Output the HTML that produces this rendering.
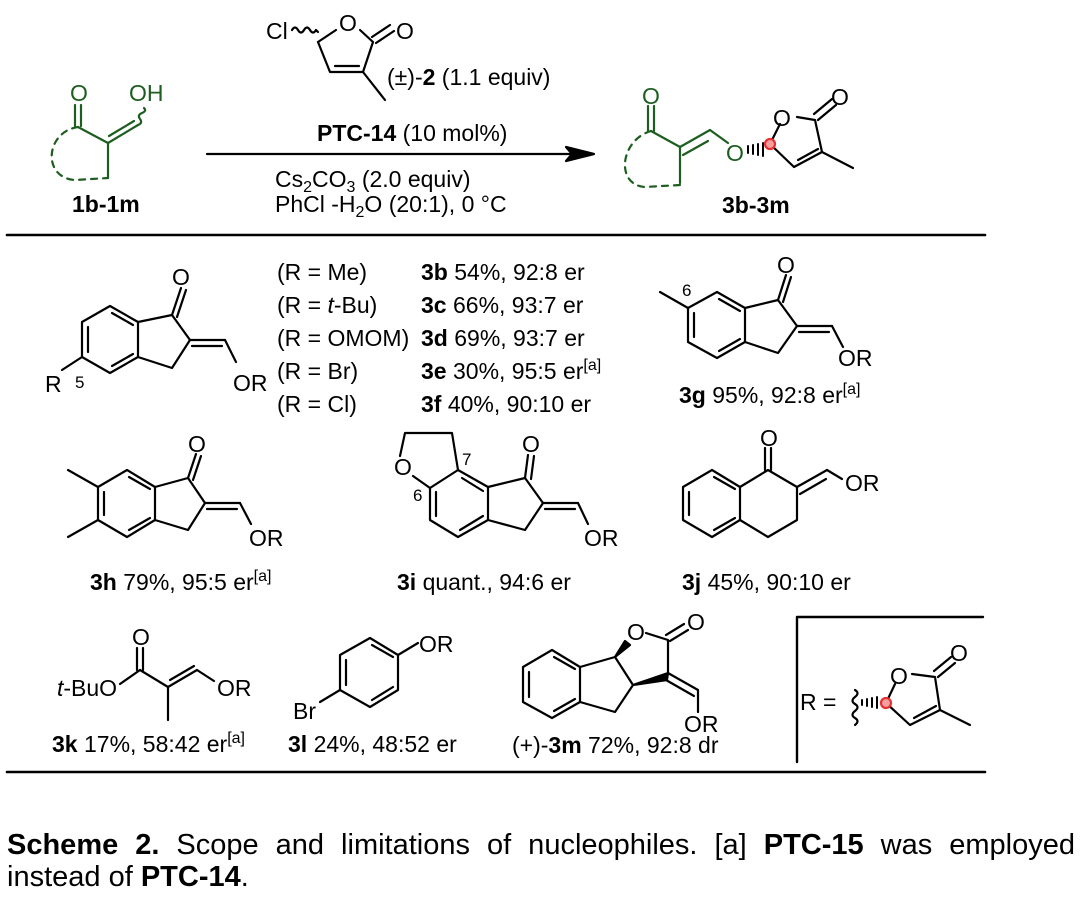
<!DOCTYPE html>
<html><head><meta charset="utf-8"><style>
html,body{margin:0;padding:0;background:#fff;}
svg{display:block;position:absolute;left:0;top:0;}
text{font-family:"Liberation Sans",Arial,sans-serif;fill:#000;}
.cap{position:absolute;left:7px;width:1068px;font-family:"Liberation Sans",Arial,sans-serif;font-size:29px;line-height:32px;color:#000;white-space:nowrap;}
.l1{top:829px;text-align:justify;text-align-last:justify;}
.l2{top:861px;}
</style></head><body>
<svg width="1080" height="908" viewBox="0 0 1080 908" xmlns="http://www.w3.org/2000/svg">
<g stroke="#000" stroke-width="2.2" fill="none" stroke-linecap="round" stroke-linejoin="round">
<line x1="7" y1="235" x2="985" y2="235" stroke-width="2.6"/>
<line x1="7" y1="772" x2="985" y2="772" stroke-width="2.6"/>
<polyline points="797,762 797,617 983,617" stroke-width="2.4"/>
<line x1="207" y1="154" x2="580" y2="154"/>
<polygon points="594,154 566,147 572,154 566,161" fill="#000"/>

<path d="M292,30 q3,-5 6,0 t6,0 t6,0 t6,0 l2,2"/>
<polyline points="318,42 336,30"/>
<polyline points="360,30 373,42 363,72 330,72 318,42"/>
<line x1="335" y1="66" x2="359" y2="66"/>
<line x1="372" y1="37" x2="390" y2="25"/><line x1="376" y1="43" x2="394" y2="31"/>
<line x1="363" y1="72" x2="385" y2="100"/>

<g stroke="#1d5e20">
<line x1="75" y1="105" x2="75" y2="126"/><line x1="81" y1="105" x2="81" y2="126"/>
<polyline points="78,127 108,143 108,178"/>
<line x1="108" y1="143" x2="138" y2="125"/><line x1="109" y1="136" x2="134" y2="121"/>
<path d="M138,125 q5,-2 2,-6 t2,-6 t2,-5"/>
<path d="M78,127 C45,132 42,178 75,180 L108,178" stroke-dasharray="6,6"/>
</g>
<g stroke="#1d5e20">
<line x1="648" y1="106" x2="648" y2="131"/><line x1="654" y1="106" x2="654" y2="131"/>
<polyline points="651,131 680,147 680,183"/>
<line x1="680" y1="147" x2="710" y2="130"/><line x1="683" y1="155" x2="708" y2="141"/>
<line x1="710" y1="130" x2="728" y2="143"/>
<path d="M651,131 C620,140 615,185 645,187 L680,185" stroke-dasharray="6,6"/>
</g>
<g stroke-width="2">
<line x1="748" y1="146" x2="748" y2="153"/><line x1="753" y1="145" x2="753" y2="154"/><line x1="758" y1="144" x2="758" y2="155"/><line x1="763" y1="143" x2="763" y2="156"/>
</g>
<polyline points="770,144 780,124"/>
<polyline points="797,117 815,120 822,152 794,167 770,144"/>
<line x1="798" y1="160" x2="818" y2="149"/>
<line x1="814" y1="114" x2="832" y2="99"/><line x1="818" y1="120" x2="836" y2="105"/>
<line x1="822" y1="152" x2="853" y2="168"/>
<circle cx="770" cy="144" r="5" stroke="#e83030" stroke-width="2.2" fill="#f4a0a0"/>

<polygon points="110,306 82,322 82,357 110,373 138,357 138,322"/>
<line x1="88" y1="327" x2="88" y2="352"/><line x1="112" y1="366" x2="133" y2="354"/><line x1="112" y1="313" x2="133" y2="325"/>
<polyline points="138,322 172,315 190,340 172,368 138,357"/>
<line x1="172" y1="315" x2="181" y2="288"/><line x1="177" y1="317" x2="186" y2="290"/>
<line x1="190" y1="340" x2="225" y2="340"/><line x1="192" y1="346" x2="222" y2="346"/>
<line x1="225" y1="340" x2="236" y2="362"/>
<line x1="82" y1="357" x2="62" y2="370"/>

<polygon points="717,292 688,308 688,342 717,358 745,342 745,308"/>
<line x1="694" y1="313" x2="694" y2="337"/><line x1="719" y1="351" x2="740" y2="339"/><line x1="719" y1="299" x2="740" y2="311"/>
<polyline points="745,308 778,300 797,326 778,353 745,342"/>
<line x1="778" y1="300" x2="786" y2="275"/><line x1="783" y1="302" x2="791" y2="277"/>
<line x1="797" y1="326" x2="832" y2="326"/><line x1="799" y1="332" x2="829" y2="332"/>
<line x1="832" y1="326" x2="843" y2="347"/>
<line x1="688" y1="308" x2="660" y2="292"/>

<polygon points="127,470 98,487 98,520 127,537 155,520 155,487"/>
<line x1="104" y1="492" x2="104" y2="515"/><line x1="129" y1="530" x2="150" y2="518"/><line x1="129" y1="477" x2="150" y2="489"/>
<polyline points="155,487 188,478 205,503 188,530 155,520"/>
<line x1="188" y1="478" x2="196" y2="454"/><line x1="193" y1="480" x2="201" y2="456"/>
<line x1="205" y1="503" x2="240" y2="503"/><line x1="207" y1="509" x2="237" y2="509"/>
<line x1="240" y1="503" x2="251" y2="524"/>
<line x1="98" y1="487" x2="68" y2="470"/><line x1="98" y1="520" x2="68" y2="537"/>

<polygon points="458,470 430,488 430,520 458,537 488,520 488,487"/>
<line x1="436" y1="492" x2="436" y2="516"/><line x1="460" y1="530" x2="483" y2="516"/><line x1="462" y1="478" x2="483" y2="491"/>
<polyline points="488,487 525,478 543,503 525,530 488,520"/>
<line x1="525" y1="478" x2="528" y2="455"/><line x1="531" y1="479" x2="534" y2="456"/>
<line x1="543" y1="503" x2="578" y2="503"/><line x1="545" y1="509" x2="575" y2="509"/>
<line x1="578" y1="503" x2="588" y2="524"/>
<polyline points="430,488 413,476"/>
<polyline points="400,456 405,433 452,433 458,470"/>

<polygon points="712,470 683,487 683,520 712,537 740,520 740,487"/>
<line x1="689" y1="492" x2="689" y2="515"/><line x1="714" y1="530" x2="735" y2="518"/><line x1="714" y1="477" x2="735" y2="489"/>
<polyline points="740,487 768,470 797,487 797,520 768,537 740,520"/>
<line x1="765" y1="470" x2="765" y2="448"/><line x1="771" y1="470" x2="771" y2="448"/>
<line x1="797" y1="487" x2="827" y2="470"/><line x1="800" y1="494" x2="826" y2="479"/>
<line x1="827" y1="470" x2="842" y2="479"/>

<line x1="120" y1="684" x2="140" y2="670"/>
<line x1="137" y1="670" x2="137" y2="648"/><line x1="143" y1="670" x2="143" y2="648"/>
<polyline points="140,670 168,687 168,720"/>
<line x1="168" y1="687" x2="197" y2="670"/><line x1="170" y1="680" x2="194" y2="666"/>
<line x1="197" y1="670" x2="214" y2="681"/>

<polygon points="370,638 340,655 340,690 370,707 398,690 398,655"/>
<line x1="346" y1="660" x2="346" y2="685"/><line x1="372" y1="700" x2="393" y2="687"/><line x1="372" y1="645" x2="393" y2="657"/>
<line x1="398" y1="655" x2="418" y2="643"/>
<line x1="340" y1="690" x2="320" y2="702"/>

<polygon points="552,650 523,667 523,702 552,718 580,702 580,667"/>
<line x1="529" y1="672" x2="529" y2="697"/><line x1="554" y1="711" x2="575" y2="699"/><line x1="554" y1="657" x2="575" y2="669"/>
<polyline points="580,667 615,657 633,685 615,712 580,702"/>
<polygon points="615,657 625,641 630,645" fill="#000"/>
<polyline points="646,633 668,640 668,673"/>
<polygon points="633,685 668,673 667,680" fill="#000"/>
<line x1="666" y1="635" x2="684" y2="624"/><line x1="670" y1="641" x2="688" y2="630"/>
<line x1="668" y1="673" x2="698" y2="690"/><line x1="666" y1="680" x2="694" y2="696"/>
<line x1="698" y1="690" x2="698" y2="712"/>

<path d="M855,690 q5,3 0,7 t0,7 t0,7 t0,7 t0,7"/>
<g stroke-width="2">
<line x1="862" y1="700" x2="862" y2="705"/><line x1="867" y1="699" x2="867" y2="706"/><line x1="872" y1="698" x2="872" y2="707"/><line x1="877" y1="697" x2="877" y2="708"/>
</g>
<polyline points="886,703 895,684"/>
<polyline points="912,674 935,677 940,710 910,725 886,703"/>
<line x1="914" y1="718" x2="936" y2="706"/>
<line x1="934" y1="671" x2="951" y2="657"/><line x1="938" y1="677" x2="955" y2="663"/>
<line x1="940" y1="710" x2="970" y2="725"/>
<circle cx="886" cy="703" r="5" stroke="#e83030" stroke-width="2.2" fill="#f4a0a0"/>
</g>

<g font-size="23">
<text x="266" y="39">Cl</text>
<text x="339" y="31">O</text>
<text x="396" y="39">O</text>
<text x="387" y="85">(±)-<tspan font-weight="bold">2</tspan> (1.1 equiv)</text>
<text x="317" y="141"><tspan font-weight="bold">PTC-14</tspan> (10 mol%)</text>
<text x="275" y="187">Cs<tspan font-size="16" dy="5">2</tspan><tspan dy="-5">CO</tspan><tspan font-size="16" dy="5">3</tspan><tspan dy="-5"> (2.0 equiv)</tspan></text>
<text x="275" y="212">PhCl -H<tspan font-size="16" dy="5">2</tspan><tspan dy="-5">O (20:1), 0 °C</tspan></text>
<text x="72" y="212" font-weight="bold">1b-1m</text>
<text x="722" y="213" font-weight="bold">3b-3m</text>
<text x="70" y="101" style="fill:#1d5e20">O</text>
<text x="129" y="101" style="fill:#1d5e20">OH</text>
<text x="642" y="104" style="fill:#1d5e20">O</text>
<text x="726" y="161" style="fill:#1d5e20">O</text>
<text x="773" y="126">O</text>
<text x="831" y="105">O</text>

<text x="172" y="285">O</text>
<text x="233" y="391">OR</text>
<text x="45" y="392">R</text>
<text x="75" y="388" font-size="17">5</text>
<text x="277" y="280">(R = Me)</text>
<text x="277" y="313">(R = <tspan font-style="italic">t</tspan>-Bu)</text>
<text x="277" y="346">(R = OMOM)</text>
<text x="277" y="379">(R = Br)</text>
<text x="277" y="412">(R = Cl)</text>
<text x="421" y="280"><tspan font-weight="bold">3b</tspan> 54%, 92:8 er</text>
<text x="421" y="313"><tspan font-weight="bold">3c</tspan> 66%, 93:7 er</text>
<text x="421" y="346"><tspan font-weight="bold">3d</tspan> 69%, 93:7 er</text>
<text x="421" y="379"><tspan font-weight="bold">3e</tspan> 30%, 95:5 er<tspan font-size="16" dy="-9">[a]</tspan></text>
<text x="421" y="412"><tspan font-weight="bold">3f</tspan> 40%, 90:10 er</text>

<text x="777" y="273">O</text>
<text x="838" y="366">OR</text>
<text x="682" y="296" font-size="17">6</text>
<text x="679" y="403"><tspan font-weight="bold">3g</tspan> 95%, 92:8 er<tspan font-size="16" dy="-9">[a]</tspan></text>

<text x="188" y="452">O</text>
<text x="249" y="546">OR</text>
<text x="90" y="590"><tspan font-weight="bold">3h</tspan> 79%, 95:5 er<tspan font-size="16" dy="-9">[a]</tspan></text>

<text x="522" y="452">O</text>
<text x="394" y="475">O</text>
<text x="584" y="546">OR</text>
<text x="462" y="465" font-size="17">7</text>
<text x="413" y="501" font-size="17">6</text>
<text x="397" y="590"><tspan font-weight="bold">3i</tspan> quant., 94:6 er</text>

<text x="760" y="446">O</text>
<text x="845" y="491">OR</text>
<text x="682" y="590"><tspan font-weight="bold">3j</tspan> 45%, 90:10 er</text>

<text x="132" y="645">O</text>
<text x="57" y="696"><tspan font-style="italic">t</tspan>-BuO</text>
<text x="217" y="696">OR</text>
<text x="52" y="752"><tspan font-weight="bold">3k</tspan> 17%, 58:42 er<tspan font-size="16" dy="-9">[a]</tspan></text>

<text x="419" y="652">OR</text>
<text x="293" y="719">Br</text>
<text x="288" y="752"><tspan font-weight="bold">3l</tspan> 24%, 48:52 er</text>

<text x="627" y="640">O</text>
<text x="687" y="630">O</text>
<text x="684" y="732">OR</text>
<text x="512" y="753">(+)-<tspan font-weight="bold">3m</tspan> 72%, 92:8 dr</text>

<text x="800" y="710">R =</text>
<text x="890" y="684">O</text>
<text x="950" y="661">O</text>
</g>
</svg>
<div class="cap l1"><b>Scheme 2.</b> Scope and limitations of nucleophiles. [a] <b>PTC-15</b> was employed</div>
<div class="cap l2">instead of <b>PTC-14</b>.</div>
</body></html>
